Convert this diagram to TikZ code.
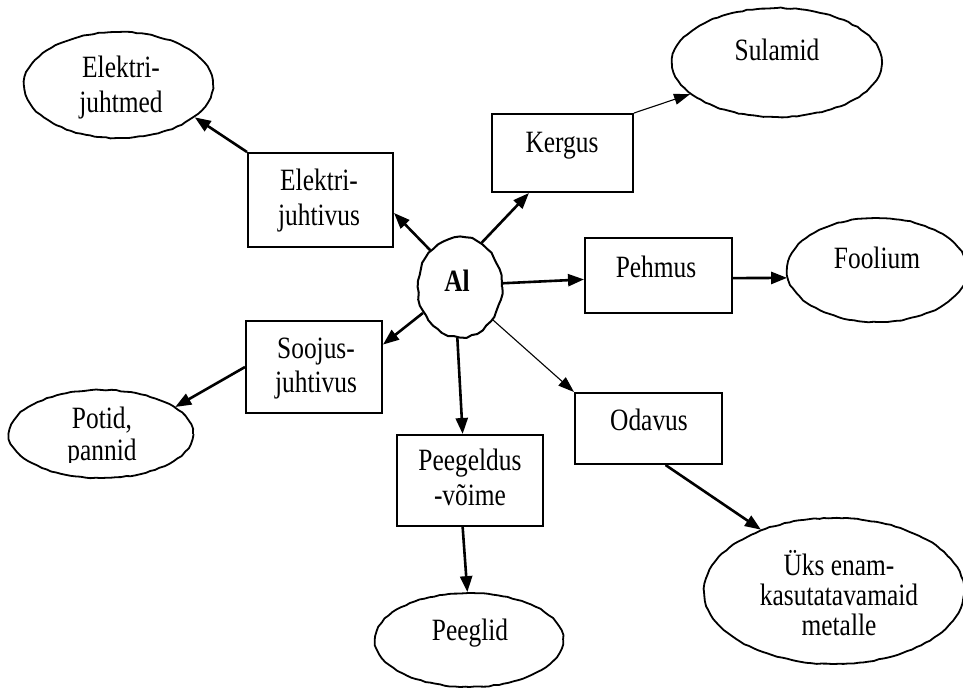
\documentclass[tikz,border=0pt]{standalone}
\usepackage{fontspec}
\setmainfont{Liberation Serif}[FakeStretch=0.82]
\usetikzlibrary{shapes.geometric,arrows.meta,decorations.pathmorphing}
\begin{document}
\pgfmathsetseed{7}
\begin{tikzpicture}[x=1pt,y=-1pt,
  box/.style={draw, rectangle, line width=2pt, inner sep=0pt},
  ell/.style={draw, ellipse, line width=1.8pt, inner sep=0pt, decorate,
    decoration={random steps, segment length=5pt, amplitude=0.5pt}},
  alshape/.style={draw, ellipse, line width=2pt, inner sep=0pt, decorate,
    decoration={random steps, segment length=6pt, amplitude=0.9pt}},
  txt/.style={font=\fontsize{31}{35}\selectfont, inner sep=0pt, anchor=base},
  arr/.style={line width=2.6pt, -{Triangle[length=16pt,width=12pt]}},
  tarr/.style={line width=1.1pt, -{Triangle[length=16pt,width=11pt]}},
]
\useasboundingbox (0,0) rectangle (963,689);

% central node
\node[alshape, minimum width=84pt, minimum height=100pt] (al) at (460,287) {};
\node[txt, font=\fontsize{31}{35}\selectfont\bfseries] (t-al) at (457,291) {Al};

% boxes
\node[box, minimum width=145pt, minimum height=94pt] (ejv) at (320.5,200) {};
\node[box, minimum width=141pt, minimum height=78pt] (kerg) at (562.5,153) {};
\node[box, minimum width=147pt, minimum height=75pt] (pehm) at (658.5,275.5) {};
\node[box, minimum width=136pt, minimum height=92pt] (sooj) at (314,367) {};
\node[box, minimum width=146pt, minimum height=91pt] (peeg) at (470,480.5) {};
\node[box, minimum width=147pt, minimum height=71pt] (odav) at (648.5,428.5) {};

% ellipses
\node[ell, minimum width=189pt, minimum height=106pt] (ejm) at (118.5,85) {};
\node[ell, minimum width=210pt, minimum height=109pt] (sul) at (777,62.5) {};
\node[ell, minimum width=180pt, minimum height=104pt] (fool) at (877,270) {};
\node[ell, minimum width=184pt, minimum height=88pt] (pot) at (101,434) {};
\node[ell, minimum width=188pt, minimum height=94pt] (peeglid) at (469,640) {};
\node[ell, minimum width=260pt, minimum height=146pt] (yks) at (834,591) {};

% texts
\node[txt] (t-ejm1) at (121,77) {Elektri-};
\node[txt] (t-ejm2) at (121,112) {juhtmed};
\node[txt] (t-ejv1) at (319,190) {Elektri-};
\node[txt] (t-ejv2) at (319,225) {juhtivus};
\node[txt] (t-kerg) at (562,152) {Kergus};
\node[txt] (t-sul) at (777,60) {Sulamid};
\node[txt] (t-pehm) at (656,277) {Pehmus};
\node[txt] (t-fool) at (877,268) {Foolium};
\node[txt] (t-sooj1) at (316,358) {Soojus-};
\node[txt] (t-sooj2) at (316,392) {juhtivus};
\node[txt] (t-pot1) at (102,428) {Potid,};
\begin{scope}
  \clip (0,380) rectangle (200,462);
  \node[txt] (t-pot2) at (102,460) {pannid};
\end{scope}
\node[txt] (t-peeg1) at (470,470) {Peegeldus};
\node[txt] (t-peeg2) at (470,505) {-võime};
\node[txt] (t-odav) at (649,430) {Odavus};
\node[txt] (t-peeglid) at (470,640) {Peeglid};
\node[txt] (t-yks1) at (839,575) {Üks enam-};
\node[txt] (t-yks2) at (839,605) {kasutatavamaid};
\node[txt] (t-yks3) at (839,635) {metalle};

% connectors
\draw[arr] (al.129) -- (ejv.-10);
\draw[arr] (ejv.north west) -- (ejm.-23);
\draw[arr] (al.64) -- (kerg.-130);
\draw[tarr] (kerg.north east) -- (sul.200);
\draw[arr] (al.5) -- (pehm.183);
\draw[arr] (pehm.-2) -- (fool.185);
\draw[arr] (al.215) -- (sooj.18);
\draw[arr] (sooj.west) -- (pot.20);
\draw[arr] (al.-93) -- (peeg.99);
\draw[arr] (peeg.-99) -- (peeglid.92);
\draw[tarr] (al.-45) -- (odav.north west);
\draw[arr] (odav.-65) -- (yks.140);
\end{tikzpicture}
\end{document}
